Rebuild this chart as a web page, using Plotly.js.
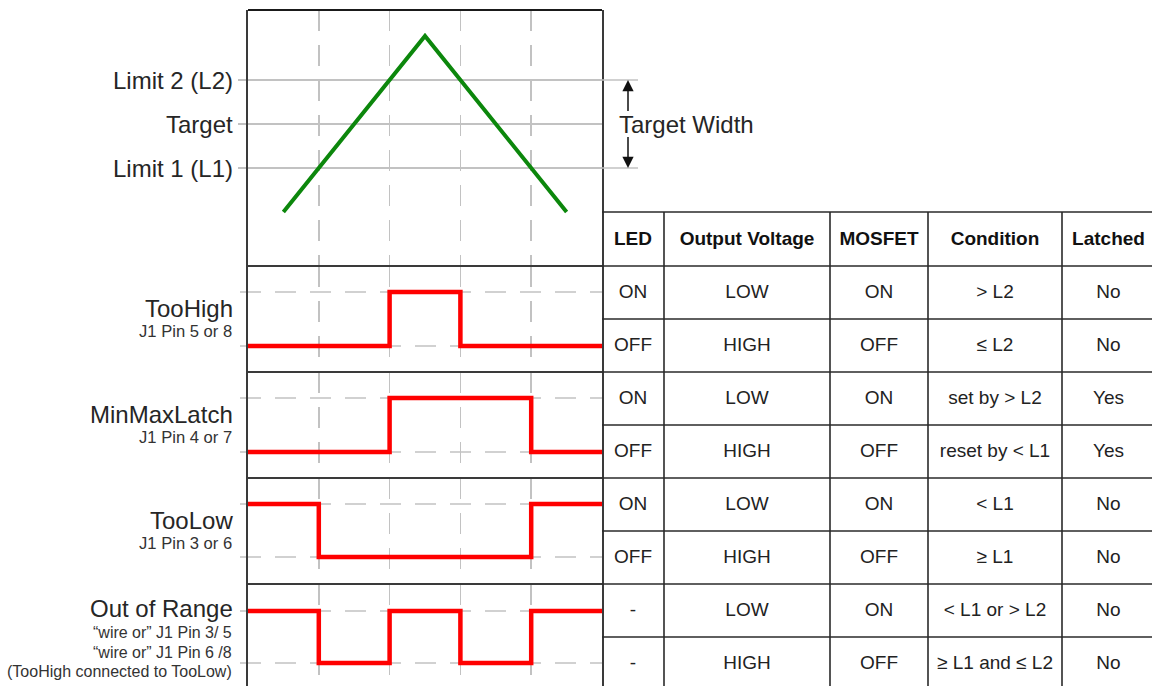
<!DOCTYPE html>
<html>
<head>
<meta charset="utf-8">
<script src="https://cdn.plot.ly/plotly-3.0.1.min.js"></script>
<style>
  html, body { margin: 0; padding: 0; background: #ffffff; }
  #chart { width: 1152px; height: 686px; }
</style>
</head>
<body>
<div id="chart"></div>
<script>
// ---------------- data ----------------
const levelNames = ['Limit 1 (L1)', 'Target', 'Limit 2 (L2)'];
const levelValues = [1, 2, 3];
const analogTime = [0.5, 2.5, 4.5];
const analogValue = [0, 4, 0];
const timeTicks = [1, 2, 3, 4];

const signalNames = ['TooHigh', 'MinMaxLatch', 'TooLow', 'Out of Range'];
const signalPins = [
  ['J1 Pin 5 or 8'],
  ['J1 Pin 4 or 7'],
  ['J1 Pin 3 or 6'],
  ['\u201Cwire or\u201D J1 Pin 3/ 5', '\u201Cwire or\u201D J1 Pin 6 /8', '(TooHigh connected to TooLow)']
];
const tooHighTime = [0, 2, 3, 5];
const tooHighValue = [0, 1, 0, 0];
const minMaxLatchTime = [0, 2, 4, 5];
const minMaxLatchValue = [0, 1, 0, 0];
const tooLowTime = [0, 1, 4, 5];
const tooLowValue = [1, 0, 1, 1];
const outOfRangeTime = [0, 1, 2, 3, 4, 5];
const outOfRangeValue = [1, 0, 1, 0, 1, 1];

const tableHeader = ['LED', 'Output Voltage', 'MOSFET', 'Condition', 'Latched'];
const colLED = ['ON', 'OFF', 'ON', 'OFF', 'ON', 'OFF', '-', '-'];
const colOutputVoltage = ['LOW', 'HIGH', 'LOW', 'HIGH', 'LOW', 'HIGH', 'LOW', 'HIGH'];
const colMOSFET = ['ON', 'OFF', 'ON', 'OFF', 'ON', 'OFF', 'ON', 'OFF'];
const colCondition = ['> L2', '\u2264 L2', 'set by > L2', 'reset by < L1', '< L1', '\u2265 L1', '< L1 or > L2', '\u2265 L1 and \u2264 L2'];
const colLatched = ['No', 'No', 'Yes', 'Yes', 'No', 'No', 'No', 'No'];

// ---------------- layout geometry (pixels) ----------------
const W = 1152, H = 686;
const FONT = 'Liberation Sans, Arial, Helvetica, sans-serif';
const boxLeft = 248, boxRight = 602;
const panelEdges = [10, 266, 372, 478, 584, 686];
const py = p => 1 - p / H;
const px = p => p / W;
const labelRight = 235;
// top panel: L2 line pixel and px per unit
const topL2Px = 80, topUnitPx = 44;
// digital panels: [high px, low px]
const digLevelPx = [[292, 346], [398, 452], [504, 557], [611, 663]];
const namePx = [308, 414, 520, 608];
const pinPx = [[331], [437], [543], [632, 652, 671]];
const pinSize = [16.6, 16.6, 16.6, 16];
// table
const tableTop = 212;
const colWidths = [62, 166, 98, 134, 93];
const headerH = 54, rowH = 53;

const gridGray = '#c2c2c2';
const boxColor = '#3a3a3a';

// ---------------- traces ----------------
const traces = [];
traces.push({
  type: 'scatter', mode: 'lines', x: analogTime, y: analogValue,
  xaxis: 'x', yaxis: 'y', line: { color: '#0c870c', width: 4 }, hoverinfo: 'skip'
});
const signals = [
  [tooHighTime, tooHighValue],
  [minMaxLatchTime, minMaxLatchValue],
  [tooLowTime, tooLowValue],
  [outOfRangeTime, outOfRangeValue]
];
signals.forEach((s, i) => {
  traces.push({
    type: 'scatter', mode: 'lines', x: s[0], y: s[1],
    xaxis: 'x', yaxis: 'y' + (i + 2),
    line: { color: '#ff0000', width: 4.5, shape: 'hv' }, hoverinfo: 'skip'
  });
});

// table text
const colStarts = [];
let acc = 0;
colWidths.forEach(w => { colStarts.push(acc); acc += w; });
const colCenters = colStarts.map((s, i) => s + colWidths[i] / 2);
const tableColumns = [colLED, colOutputVoltage, colMOSFET, colCondition, colLatched];
const nRows = colLED.length;
const rowCenters = colLED.map((_, r) => headerH + rowH * r + rowH / 2);

traces.push({
  type: 'scatter', mode: 'text', x: colCenters, y: colCenters.map(() => headerH / 2 + 1),
  text: tableHeader.map(t => '<b>' + t + '</b>'), textposition: 'middle center',
  xaxis: 'x6', yaxis: 'y6', textfont: { family: FONT, size: 19, color: '#111111' },
  hoverinfo: 'skip', cliponaxis: false
});
tableColumns.forEach((col, c) => {
  traces.push({
    type: 'scatter', mode: 'text', x: col.map(() => colCenters[c]), y: rowCenters.map(v => v + 1),
    text: col, textposition: 'middle center',
    xaxis: 'x6', yaxis: 'y6', textfont: { family: FONT, size: 19, color: '#222222' },
    hoverinfo: 'skip', cliponaxis: false
  });
});

// ---------------- axes ----------------
const layout = {
  width: W, height: H,
  margin: { l: 0, r: 0, t: 0, b: 0, pad: 0 },
  paper_bgcolor: '#ffffff', plot_bgcolor: 'rgba(0,0,0,0)',
  showlegend: false, hovermode: false,
  font: { family: FONT, color: '#222222' },
  xaxis: {
    domain: [px(boxLeft), px(boxRight)], range: [0, 5], anchor: 'y5',
    tickmode: 'array', tickvals: timeTicks, showticklabels: false, ticks: '',
    showgrid: true, gridcolor: gridGray, gridwidth: 1.5, griddash: '21px,14px',
    zeroline: false, showline: false, fixedrange: true
  },
  yaxis: {
    domain: [py(panelEdges[1]), py(panelEdges[0])],
    range: [levelValues[2] - (panelEdges[1] - topL2Px) / topUnitPx,
            levelValues[2] + (topL2Px - panelEdges[0]) / topUnitPx],
    anchor: 'x', tickmode: 'array', tickvals: levelValues, showticklabels: false,
    ticks: 'outside', ticklen: 8, tickwidth: 1.5, tickcolor: gridGray,
    showgrid: true, gridcolor: gridGray, gridwidth: 1.5,
    zeroline: false, showline: true, mirror: true, linecolor: boxColor, linewidth: 2,
    fixedrange: true
  },
  xaxis6: { domain: [px(boxRight), 1], range: [0, W - boxRight], anchor: 'y6', visible: false, fixedrange: true },
  yaxis6: { domain: [0, py(tableTop - 3)], range: [H - tableTop, -3], anchor: 'x6', visible: false, fixedrange: true },
  shapes: [],
  annotations: []
};

for (let i = 0; i < 4; i++) {
  const top = panelEdges[i + 1], bot = panelEdges[i + 2];
  const hi = digLevelPx[i][0], lo = digLevelPx[i][1];
  const unit = lo - hi;
  layout['yaxis' + (i + 2)] = {
    domain: [py(bot), py(top)],
    range: [-(bot - lo) / unit, 1 + (hi - top) / unit],
    anchor: 'x', showticklabels: false, ticks: '', showgrid: false,
    zeroline: false, showline: true, mirror: true, linecolor: boxColor, linewidth: 2,
    fixedrange: true
  };
  // dashed level lines
  [0, 1].forEach(v => {
    layout.shapes.push({
      type: 'line', layer: 'below', xref: 'paper', yref: 'y' + (i + 2),
      x0: px(boxLeft - 8), x1: px(boxRight), y0: v, y1: v,
      line: { color: gridGray, width: 1.5, dash: '21px,14px' }
    });
  });
}

// panel top borders / separators
for (let i = 0; i < 5; i++) {
  layout.shapes.push({
    type: 'line', xref: 'paper', yref: 'paper',
    x0: px(boxLeft), x1: px(boxRight), y0: py(panelEdges[i]), y1: py(panelEdges[i]),
    line: { color: i === 0 ? '#1a1a1a' : boxColor, width: 2 }
  });
}

// L1 / L2 extension to target width marker
[levelValues[0], levelValues[2]].forEach(v => {
  layout.shapes.push({
    type: 'line', xref: 'paper', yref: 'y',
    x0: px(boxRight), x1: px(638), y0: v, y1: v,
    line: { color: gridGray, width: 1.5 }
  });
});

// table grid lines
const tableBottom = H - tableTop;
const rowLines = [0, headerH];
for (let r = 1; r <= nRows; r++) rowLines.push(headerH + rowH * r);
rowLines.forEach(y => {
  layout.shapes.push({
    type: 'line', xref: 'x6', yref: 'y6', x0: 0, x1: W - boxRight, y0: y, y1: y,
    line: { color: '#2a2a2a', width: 1.6 }
  });
});
colStarts.slice(1).forEach(x => {
  layout.shapes.push({
    type: 'line', xref: 'x6', yref: 'y6', x0: x, x1: x, y0: 0, y1: tableBottom,
    line: { color: '#2a2a2a', width: 1.6 }
  });
});

// level labels
levelNames.forEach((t, i) => {
  layout.annotations.push({
    xref: 'paper', yref: 'y', x: px(labelRight), y: levelValues[i],
    xanchor: 'right', yanchor: 'middle', text: t, showarrow: false,
    font: { family: FONT, size: 24, color: '#262626' }
  });
});

// signal labels
signalNames.forEach((t, i) => {
  layout.annotations.push({
    xref: 'paper', yref: 'paper', x: px(labelRight), y: py(namePx[i]),
    xanchor: 'right', yanchor: 'middle', text: t, showarrow: false,
    font: { family: FONT, size: 24, color: '#262626' }
  });
  signalPins[i].forEach((p, j) => {
    layout.annotations.push({
      xref: 'paper', yref: 'paper', x: px(labelRight - 1), y: py(pinPx[i][j]),
      xanchor: 'right', yanchor: 'middle', text: p, showarrow: false,
      font: { family: FONT, size: pinSize[i], color: '#333333' }
    });
  });
});

// target width annotation + arrows
layout.annotations.push({
  xref: 'paper', yref: 'y', x: px(617), y: levelValues[1],
  xanchor: 'left', yanchor: 'middle', text: 'Target Width', showarrow: false,
  font: { family: FONT, size: 24, color: '#262626' }
});
layout.annotations.push({
  xref: 'paper', yref: 'y', x: px(628), y: levelValues[2], text: ' ',
  font: { size: 1 }, showarrow: true, ax: 0, ay: 33,
  arrowhead: 2, arrowsize: 1.5, arrowwidth: 1.5, arrowcolor: '#111111'
});
layout.annotations.push({
  xref: 'paper', yref: 'y', x: px(628), y: levelValues[0], text: ' ',
  font: { size: 1 }, showarrow: true, ax: 0, ay: -33,
  arrowhead: 2, arrowsize: 1.5, arrowwidth: 1.5, arrowcolor: '#111111'
});

Plotly.newPlot('chart', traces, layout, { staticPlot: true, displayModeBar: false });
</script>
</body>
</html>
